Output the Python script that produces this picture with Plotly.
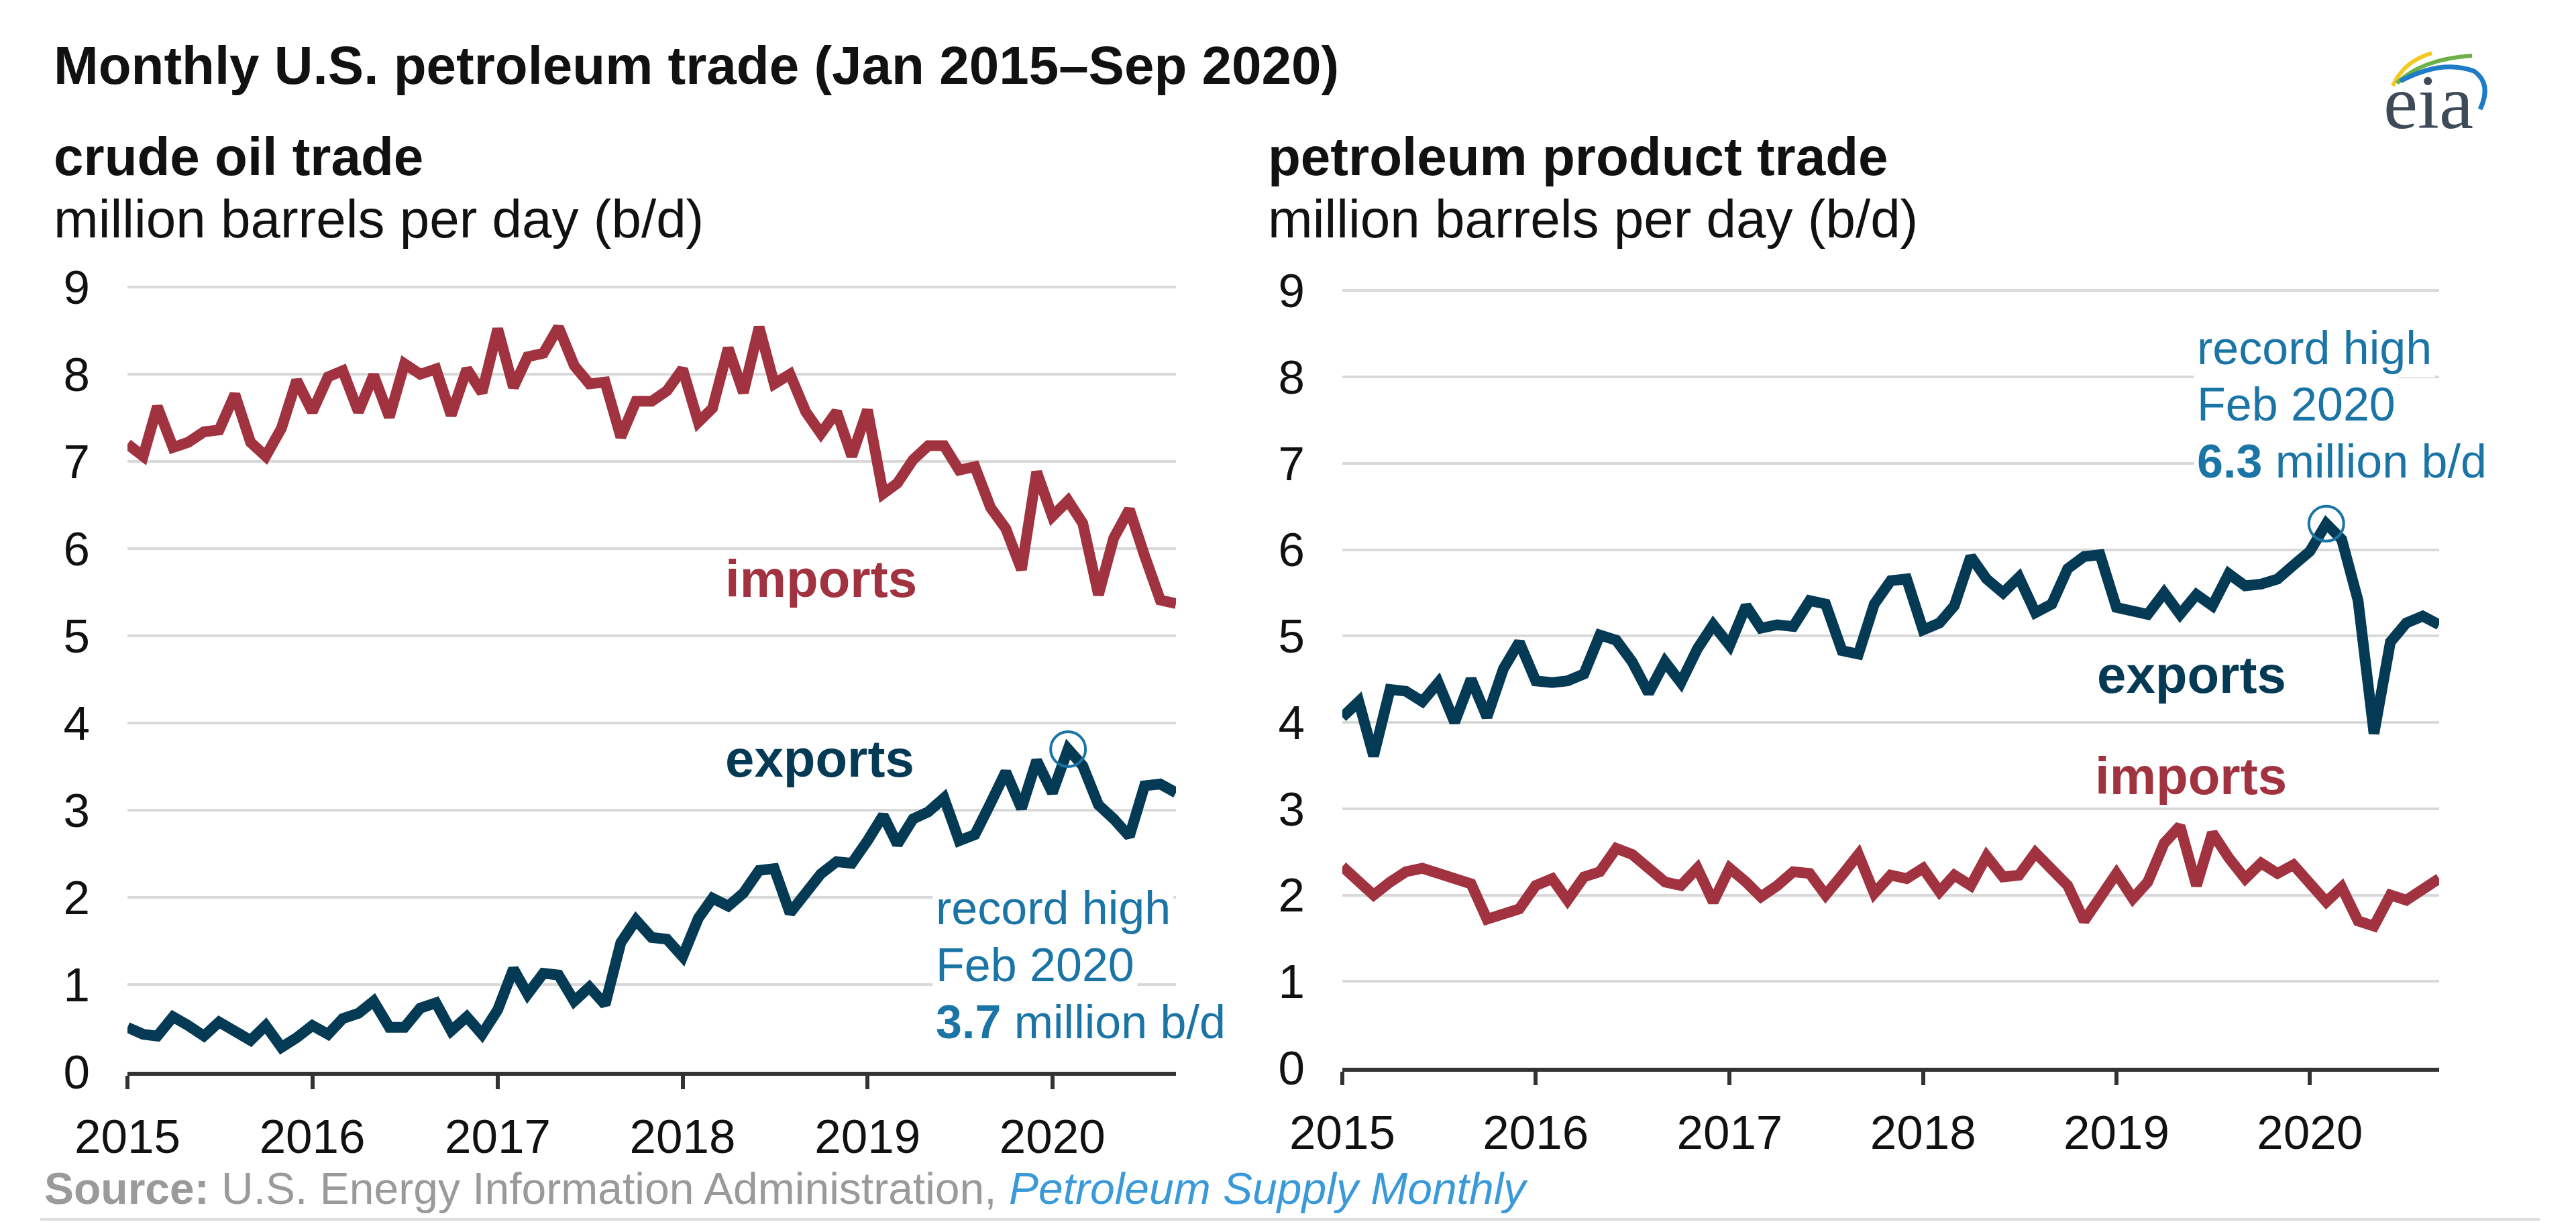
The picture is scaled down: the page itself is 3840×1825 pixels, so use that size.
import pandas as pd
import plotly.graph_objects as go

# ---------------- data (million b/d), monthly Jan 2015 - Sep 2020 ----------------
months = pd.date_range("2015-01-01", "2020-09-01", freq="MS").strftime("%Y-%m-%d").tolist()

crude_imports = [7.20, 7.06, 7.63, 7.16, 7.22, 7.34, 7.36, 7.77, 7.22, 7.06, 7.38, 7.93,
                 7.57, 7.97, 8.04, 7.57, 7.99, 7.51, 8.12, 8.00, 8.06, 7.53, 8.06, 7.79,
                 8.52, 7.85, 8.20, 8.24, 8.54, 8.10, 7.89, 7.91, 7.28, 7.69, 7.69, 7.81,
                 8.06, 7.45, 7.61, 8.30, 7.79, 8.54, 7.89, 8.00, 7.57, 7.32, 7.57, 7.06,
                 7.59, 6.63, 6.75, 7.02, 7.18, 7.18, 6.90, 6.94, 6.47, 6.23, 5.76, 6.88,
                 6.37, 6.55, 6.29, 5.47, 6.12, 6.45, 5.92, 5.41, 5.37]

crude_exports = [0.51, 0.43, 0.41, 0.63, 0.53, 0.41, 0.57, 0.47, 0.36, 0.53, 0.28, 0.39,
                 0.53, 0.43, 0.61, 0.67, 0.81, 0.51, 0.51, 0.73, 0.79, 0.47, 0.63, 0.43,
                 0.71, 1.18, 0.89, 1.13, 1.11, 0.81, 0.97, 0.77, 1.48, 1.74, 1.54, 1.52,
                 1.32, 1.76, 1.99, 1.90, 2.05, 2.31, 2.33, 1.82, 2.05, 2.27, 2.41, 2.39,
                 2.65, 2.94, 2.61, 2.90, 2.98, 3.14, 2.65, 2.72, 3.08, 3.44, 3.02, 3.57,
                 3.20, 3.70, 3.51, 3.06, 2.90, 2.70, 3.28, 3.30, 3.20]

product_exports = [4.06, 4.24, 3.61, 4.38, 4.36, 4.24, 4.46, 4.00, 4.50, 4.06, 4.62, 4.93,
                   4.48, 4.46, 4.48, 4.56, 5.01, 4.95, 4.70, 4.34, 4.70, 4.46, 4.85, 5.13,
                   4.89, 5.35, 5.09, 5.13, 5.11, 5.41, 5.37, 4.83, 4.79, 5.37, 5.64, 5.66,
                   5.07, 5.15, 5.35, 5.92, 5.66, 5.50, 5.68, 5.27, 5.37, 5.78, 5.92, 5.94,
                   5.33, 5.29, 5.25, 5.50, 5.25, 5.48, 5.35, 5.72, 5.58, 5.60, 5.66, 5.82,
                   5.98, 6.30, 6.12, 5.41, 3.87, 4.93, 5.15, 5.23, 5.13]

product_imports = [2.33, 2.17, 2.00, 2.15, 2.27, 2.31, 2.25, 2.17, 2.13, 1.72, 1.78, 1.84,
                   2.11, 2.19, 1.94, 2.21, 2.27, 2.54, 2.47, 2.31, 2.15, 2.11, 2.31, 1.92,
                   2.31, 2.15, 1.98, 2.11, 2.27, 2.25, 2.00, 2.23, 2.47, 2.02, 2.23, 2.19,
                   2.31, 2.04, 2.23, 2.11, 2.45, 2.21, 2.23, 2.49, 2.31, 2.11, 1.70, 1.98,
                   2.25, 1.96, 2.15, 2.60, 2.80, 2.11, 2.72, 2.43, 2.19, 2.37, 2.25, 2.35,
                   2.15, 1.92, 2.09, 1.70, 1.64, 2.00, 1.94, 2.07, 2.19]

year_ticks = ["2015-01-01", "2016-01-01", "2017-01-01", "2018-01-01", "2019-01-01", "2020-01-01"]
year_labels = ["2015", "2016", "2017", "2018", "2019", "2020"]
y_ticks = list(range(0, 10))

peak_idx = 61  # Feb 2020

# ---------------- styling ----------------
W, H = 3840, 1825
FONT = "Arial, Liberation Sans, sans-serif"
RED = "#a1323f"
NAVY = "#053a55"
BLUE = "#1a74a6"
GRID = "#d9d9d9"
LW = 16


def px(x):
    return x / W


def py(y):
    return 1 - y / H


fig = go.Figure()

# left panel
fig.add_trace(go.Scatter(x=months, y=crude_imports, mode="lines", xaxis="x", yaxis="y",
                         line=dict(color=RED, width=LW), hoverinfo="skip"))
fig.add_trace(go.Scatter(x=months, y=crude_exports, mode="lines", xaxis="x", yaxis="y",
                         line=dict(color=NAVY, width=LW), hoverinfo="skip"))
fig.add_trace(go.Scatter(x=[months[peak_idx]], y=[crude_exports[peak_idx]], mode="markers",
                         xaxis="x", yaxis="y",
                         marker=dict(symbol="circle-open", size=52, color=BLUE,
                                     line=dict(width=4, color=BLUE)), hoverinfo="skip"))
# right panel
fig.add_trace(go.Scatter(x=months, y=product_imports, mode="lines", xaxis="x2", yaxis="y2",
                         line=dict(color=RED, width=LW), hoverinfo="skip"))
fig.add_trace(go.Scatter(x=months, y=product_exports, mode="lines", xaxis="x2", yaxis="y2",
                         line=dict(color=NAVY, width=LW), hoverinfo="skip"))
fig.add_trace(go.Scatter(x=[months[peak_idx]], y=[product_exports[peak_idx]], mode="markers",
                         xaxis="x2", yaxis="y2",
                         marker=dict(symbol="circle-open", size=52, color=BLUE,
                                     line=dict(width=4, color=BLUE)), hoverinfo="skip"))

xaxis_common = dict(type="date", range=[months[0], months[-1]], tickvals=year_ticks,
                    ticktext=year_labels, showgrid=False, zeroline=False,
                    showline=True, linecolor="#333333", linewidth=6,
                    ticks="outside", ticklen=20, tickwidth=6, tickcolor="#333333",
                    tickfont=dict(family=FONT, size=71, color="#111111"),
                    ticklabelstandoff=10, fixedrange=True, automargin=False)
yaxis_common = dict(range=[0, 9.05], tickvals=y_ticks, showgrid=True, gridcolor=GRID,
                    gridwidth=4, zeroline=False, showline=False, ticks="",
                    tickfont=dict(family=FONT, size=71, color="#111111"),
                    ticklabelstandoff=55, fixedrange=True, automargin=False)

fig.update_layout(
    width=W, height=H,
    margin=dict(l=0, r=0, t=0, b=0, pad=0, autoexpand=False),
    paper_bgcolor="white", plot_bgcolor="white",
    showlegend=False,
    xaxis=dict(domain=[px(190), px(1753)], anchor="y", **xaxis_common),
    yaxis=dict(domain=[py(1598), py(1598 - 9.05 * 130)], anchor="x", **yaxis_common),
    xaxis2=dict(domain=[px(2001), px(3636)], anchor="y2", **xaxis_common),
    yaxis2=dict(domain=[py(1592), py(1592 - 9.05 * 128.75)], anchor="x2", **yaxis_common),
)

annotations = []


def text(x, y, s, size, color="#111111", bold=False, bg=None, family=FONT, xanchor="left"):
    if bold:
        s = "<b>" + s + "</b>"
    a = dict(x=px(x), y=py(y), xref="paper", yref="paper", text=s, showarrow=False,
             xanchor=xanchor, yanchor="middle", align="left",
             font=dict(family=family, size=size, color=color))
    if bg:
        a["bgcolor"] = bg
        a["borderpad"] = 4
    annotations.append(a)


# titles (y given as visual centre ~ baseline - 0.35*size)
text(78, 125 - 28, "Monthly U.S. petroleum trade (Jan 2015\u2013Sep 2020)", 80, bold=True)
text(78, 262 - 28, "crude oil trade", 80, bold=True)
text(78, 355 - 28, "million barrels per day (b/d)", 80)
text(1888, 262 - 28, "petroleum product trade", 80, bold=True)
text(1888, 355 - 28, "million barrels per day (b/d)", 80)

# series labels
text(1079, 890 - 27, "imports", 78, color=RED, bold=True)
text(1079, 1158 - 27, "exports", 78, color=NAVY, bold=True)
text(3124, 1033 - 27, "exports", 78, color=NAVY, bold=True)
text(3121, 1184 - 27, "imports", 78, color=RED, bold=True)

# record-high callouts
for (x0, ys, val) in [(1390, [1378, 1463, 1548], "3.7"), (3270, [543, 627, 712], "6.3")]:
    text(x0, ys[0] - 24, "record high", 70, color=BLUE, bg="white")
    text(x0, ys[1] - 24, "Feb 2020", 70, color=BLUE, bg="white")
    text(x0, ys[2] - 24, "<b>" + val + "</b> million b/d", 70, color=BLUE, bg="white")

# source
annotations.append(dict(
    x=px(64), y=py(1795 - 23), xref="paper", yref="paper", showarrow=False,
    xanchor="left", yanchor="middle",
    text="<b>Source:</b> U.S. Energy Information Administration, "
         "<i><span style='color:#3a9ad9'>Petroleum Supply Monthly</span></i>",
    font=dict(family=FONT, size=66, color="#9a9a9a")))

# eia logo text
annotations.append(dict(
    x=px(3620), y=py(192 - 39), xref="paper", yref="paper", showarrow=False,
    xanchor="center", yanchor="middle", text="eia",
    font=dict(family="Liberation Serif, DejaVu Serif, serif", size=115, color="#3d4a58")))

fig.update_layout(annotations=annotations)


def P(x, y):
    return f"{px(x):.5f},{py(y):.5f}"


shapes = [
    # bottom rule
    dict(type="line", xref="paper", yref="paper", x0=px(60), x1=px(3786),
         y0=py(1818), y1=py(1818), line=dict(color="#dddddd", width=4)),
    # logo arcs
    dict(type="path", xref="paper", yref="paper",
         path=f"M {P(3567,128)} Q {P(3582,92)} {P(3625,79)}",
         line=dict(color="#f4c81e", width=6)),
    dict(type="path", xref="paper", yref="paper",
         path=f"M {P(3573,124)} Q {P(3610,88)} {P(3685,83)}",
         line=dict(color="#6bb146", width=6)),
    dict(type="path", xref="paper", yref="paper",
         path=f"M {P(3578,121)} Q {P(3640,88)} {P(3688,106)} Q {P(3715,125)} {P(3697,163)}",
         line=dict(color="#1d7bc8", width=7)),
]
fig.update_layout(shapes=shapes)

fig.write_html("out.html")
